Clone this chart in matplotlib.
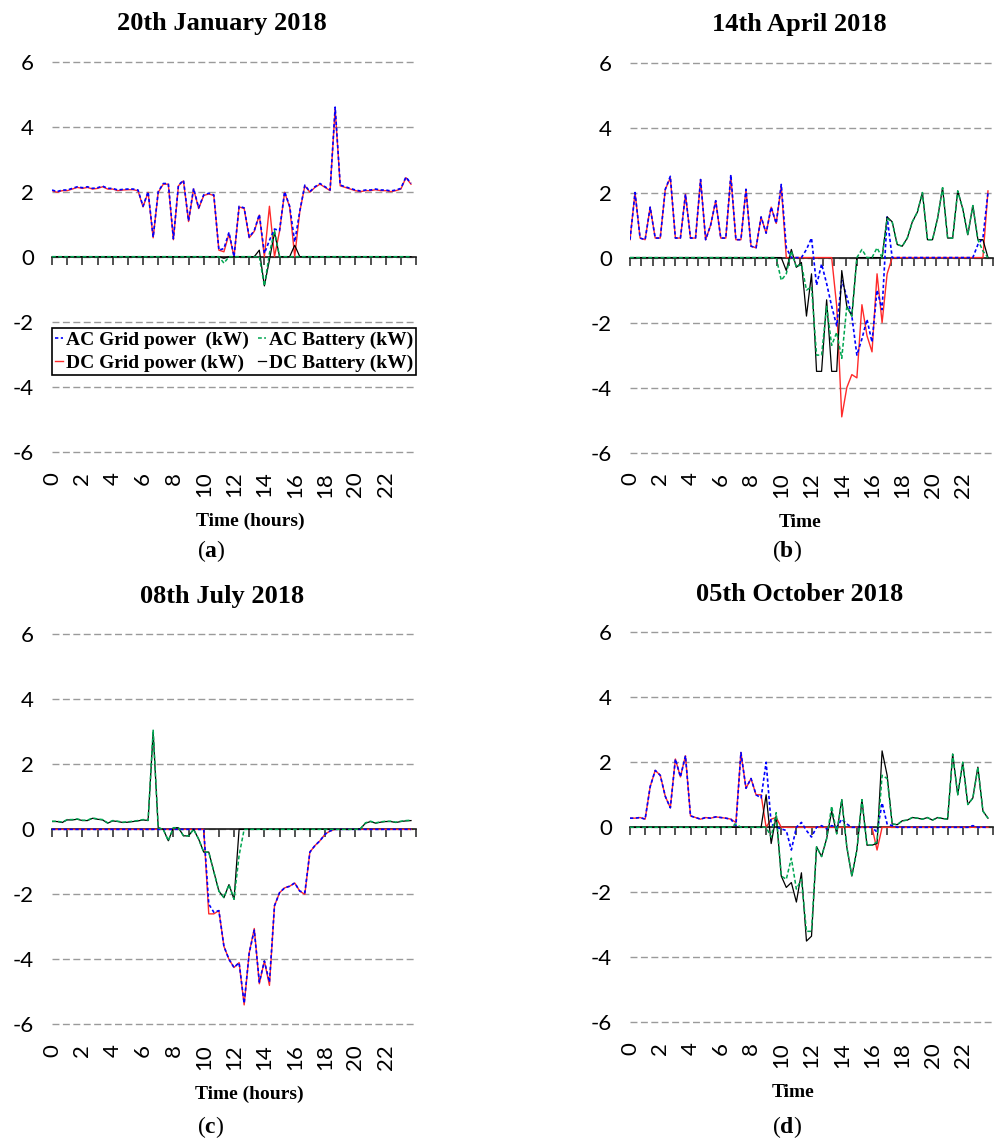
import numpy as np
import matplotlib
matplotlib.use("Agg")
import matplotlib.pyplot as plt

plt.rcParams["font.family"] = ["Lato", "DejaVu Sans"]
plt.rcParams["axes.unicode_minus"] = False
plt.rcParams["mathtext.fontset"] = "custom"
plt.rcParams["mathtext.rm"] = "Liberation Serif"
plt.rcParams["mathtext.bf"] = "Liberation Serif:bold"

# 20-minute samples over one day
HOURS = np.arange(72) / 3

JAN_AC_GRID = [
    2.05, 2.00, 2.05, 2.05, 2.10, 2.15, 2.12, 2.15, 2.10, 2.12, 2.17, 2.10,
    2.10, 2.05, 2.07, 2.08, 2.08, 2.05, 1.55, 2.00, 0.60, 2.00, 2.25, 2.25,
    0.55, 2.20, 2.35, 1.10, 2.10, 1.50, 1.90, 1.95, 1.90, 0.20, 0.25, 0.75,
    0.00, 1.55, 1.50, 0.60, 0.80, 1.30, 0.10, 0.50, 0.85, 0.80, 2.00, 1.55,
    0.45, 1.40, 2.20, 2.00, 2.15, 2.25, 2.15, 2.05, 4.60, 2.20, 2.15, 2.10,
    2.05, 2.02, 2.05, 2.05, 2.08, 2.05, 2.05, 2.02, 2.05, 2.10, 2.45, 2.25,
]
JAN_DC_GRID = [
    2.03, 1.98, 2.03, 2.03, 2.08, 2.13, 2.10, 2.13, 2.08, 2.10, 2.15, 2.08,
    2.08, 2.03, 2.05, 2.06, 2.06, 2.03, 1.53, 1.98, 0.58, 1.98, 2.23, 2.23,
    0.52, 2.18, 2.33, 1.08, 2.08, 1.48, 1.88, 1.93, 1.88, 0.20, 0.15, 0.70,
    0.00, 1.53, 1.48, 0.58, 0.78, 1.28, 0.00, 1.55, 0.00, 0.78, 1.98, 1.53,
    0.00, 1.38, 2.18, 1.98, 2.13, 2.23, 2.13, 2.03, 4.55, 2.18, 2.13, 2.08,
    2.03, 2.00, 2.03, 2.03, 2.06, 2.03, 2.03, 2.00, 2.03, 2.08, 2.43, 2.23,
]
JAN_AC_BAT = [
    0.0, 0.0, 0.0, 0.0, 0.0, 0.0, 0.0, 0.0, 0.0, 0.0, 0.0, 0.0,
    0.0, 0.0, 0.0, 0.0, 0.0, 0.0, 0.0, 0.0, 0.0, 0.0, 0.0, 0.0,
    0.0, 0.0, 0.0, 0.0, 0.0, 0.0, 0.0, 0.0, 0.0, 0.0, -0.20, 0.0,
    0.0, 0.0, 0.0, 0.0, 0.0, 0.0, -0.90, 0.10, 0.80, 0.0, 0.0, 0.0,
    0.0, 0.0, 0.0, 0.0, 0.0, 0.0, 0.0, 0.0, 0.0, 0.0, 0.0, 0.0,
    0.0, 0.0, 0.0, 0.0, 0.0, 0.0, 0.0, 0.0, 0.0, 0.0, 0.0, 0.0,
]
JAN_DC_BAT = [
    0.0, 0.0, 0.0, 0.0, 0.0, 0.0, 0.0, 0.0, 0.0, 0.0, 0.0, 0.0,
    0.0, 0.0, 0.0, 0.0, 0.0, 0.0, 0.0, 0.0, 0.0, 0.0, 0.0, 0.0,
    0.0, 0.0, 0.0, 0.0, 0.0, 0.0, 0.0, 0.0, 0.0, 0.0, -0.05, 0.0,
    0.0, 0.0, 0.0, 0.0, 0.0, 0.20, -0.90, -0.10, 0.75, 0.0, 0.0, 0.0,
    0.35, 0.0, 0.0, 0.0, 0.0, 0.0, 0.0, 0.0, 0.0, 0.0, 0.0, 0.0,
    0.0, 0.0, 0.0, 0.0, 0.0, 0.0, 0.0, 0.0, 0.0, 0.0, 0.0, 0.0,
]

APR_AC_GRID = [
    0.55, 2.00, 0.60, 0.55, 1.55, 0.60, 0.60, 2.10, 2.50, 0.60, 0.60, 1.95,
    0.60, 0.60, 2.40, 0.55, 1.00, 1.75, 0.60, 0.60, 2.55, 0.55, 0.55, 2.10,
    0.35, 0.30, 1.25, 0.75, 1.55, 1.05, 2.25, 0.30, 0.00, 0.00, 0.00, 0.25,
    0.60, -0.85, -0.20, -0.80, -1.50, -2.10, -0.70, -1.20, -1.80, -3.00, -2.50, -1.90,
    -2.60, -1.00, -1.60, 1.25, 0.00, 0.00, 0.00, 0.00, 0.00, 0.00, 0.00, 0.00,
    0.00, 0.00, 0.00, 0.00, 0.00, 0.00, 0.00, 0.00, 0.00, 0.40, 0.60, 2.00,
]
APR_DC_GRID = [
    0.55, 2.00, 0.60, 0.55, 1.55, 0.60, 0.60, 2.10, 2.45, 0.60, 0.60, 1.95,
    0.60, 0.60, 2.40, 0.55, 1.00, 1.75, 0.60, 0.60, 2.50, 0.55, 0.55, 2.10,
    0.35, 0.30, 1.25, 0.75, 1.55, 1.05, 2.20, 0.00, 0.00, 0.00, 0.00, 0.00,
    0.00, 0.00, 0.00, 0.00, 0.00, -1.50, -4.90, -4.00, -3.60, -3.70, -1.45, -2.40,
    -2.90, -0.50, -2.00, -0.50, 0.00, 0.00, 0.00, 0.00, 0.00, 0.00, 0.00, 0.00,
    0.00, 0.00, 0.00, 0.00, 0.00, 0.00, 0.00, 0.00, 0.00, 0.00, 0.00, 2.05,
]
APR_AC_BAT = [
    0.0, 0.0, 0.0, 0.0, 0.0, 0.0, 0.0, 0.0, 0.0, 0.0, 0.0, 0.0,
    0.0, 0.0, 0.0, 0.0, 0.0, 0.0, 0.0, 0.0, 0.0, 0.0, 0.0, 0.0,
    0.0, 0.0, 0.0, 0.0, 0.0, 0.0, -0.70, -0.50, 0.20, -0.30, -0.20, -1.00,
    -0.90, -3.00, -3.00, -1.50, -2.70, -2.30, -3.10, -1.50, -1.80, 0.00, 0.25, 0.00,
    0.00, 0.30, 0.00, 1.20, 1.10, 0.40, 0.35, 0.60, 1.10, 1.40, 2.00, 0.55,
    0.55, 1.20, 2.15, 0.60, 0.60, 2.05, 1.50, 0.70, 1.60, 0.55, 0.20, 0.00,
]
APR_DC_BAT = [
    0.0, 0.0, 0.0, 0.0, 0.0, 0.0, 0.0, 0.0, 0.0, 0.0, 0.0, 0.0,
    0.0, 0.0, 0.0, 0.0, 0.0, 0.0, 0.0, 0.0, 0.0, 0.0, 0.0, 0.0,
    0.0, 0.0, 0.0, 0.0, 0.0, 0.0, 0.00, -0.40, 0.25, -0.30, -0.15, -1.80,
    -0.50, -3.50, -3.50, -1.30, -3.50, -3.50, -0.40, -1.50, -1.80, 0.00, 0.00, 0.00,
    0.00, 0.00, 0.00, 1.25, 1.10, 0.40, 0.35, 0.60, 1.10, 1.40, 2.00, 0.55,
    0.55, 1.20, 2.15, 0.60, 0.60, 2.05, 1.50, 0.70, 1.60, 0.55, 0.55, 0.00,
]

JUL_AC_GRID = [
    0.0, 0.0, 0.0, 0.0, 0.0, 0.0, 0.0, 0.0, 0.0, 0.0, 0.0, 0.0,
    0.0, 0.0, 0.0, 0.0, 0.0, 0.0, 0.0, 0.0, 0.0, 0.0, 0.0, 0.0,
    0.0, 0.0, 0.0, 0.0, 0.0, 0.0, 0.00, -2.30, -2.55, -2.50, -3.60, -4.00,
    -4.25, -4.10, -5.35, -3.80, -3.10, -4.70, -4.05, -4.70, -2.35, -1.95, -1.80, -1.75,
    -1.65, -1.90, -1.95, -0.70, -0.50, -0.35, -0.15, -0.05, 0.00, 0.0, 0.0, 0.0,
    0.0, 0.0, 0.0, 0.0, 0.0, 0.0, 0.0, 0.0, 0.0, 0.0, 0.0, 0.0,
]
JUL_DC_GRID = [
    0.0, 0.0, 0.0, 0.0, 0.0, 0.0, 0.0, 0.0, 0.0, 0.0, 0.0, 0.0,
    0.0, 0.0, 0.0, 0.0, 0.0, 0.0, 0.0, 0.0, 0.0, 0.0, 0.0, 0.0,
    0.0, 0.0, 0.0, 0.0, 0.0, 0.0, 0.00, -2.60, -2.60, -2.50, -3.60, -4.00,
    -4.25, -4.10, -5.40, -3.80, -3.05, -4.75, -4.05, -4.80, -2.35, -1.95, -1.80, -1.75,
    -1.65, -1.90, -2.00, -0.70, -0.50, -0.35, -0.15, -0.05, 0.00, 0.0, 0.0, 0.0,
    0.0, 0.0, 0.0, 0.0, 0.0, 0.0, 0.0, 0.0, 0.0, 0.0, 0.0, 0.0,
]
JUL_AC_BAT = [
    0.25, 0.25, 0.22, 0.30, 0.30, 0.32, 0.28, 0.28, 0.35, 0.32, 0.30, 0.20,
    0.27, 0.25, 0.22, 0.23, 0.25, 0.27, 0.30, 0.28, 3.05, 0.05, 0.00, -0.35,
    0.05, 0.05, -0.20, -0.20, 0.00, -0.30, -0.70, -0.70, -1.30, -1.90, -2.10, -1.70,
    -2.15, -0.80, 0.00, 0.0, 0.0, 0.0, 0.0, 0.0, 0.0, 0.0, 0.0, 0.0,
    0.0, 0.0, 0.0, 0.0, 0.0, 0.0, 0.0, 0.0, 0.0, 0.0, 0.0, 0.0,
    0.00, 0.02, 0.20, 0.25, 0.20, 0.23, 0.25, 0.25, 0.22, 0.25, 0.27, 0.28,
]
JUL_DC_BAT = [
    0.24, 0.24, 0.21, 0.29, 0.29, 0.31, 0.27, 0.27, 0.34, 0.31, 0.29, 0.19,
    0.26, 0.24, 0.21, 0.22, 0.24, 0.26, 0.29, 0.27, 3.00, 0.05, 0.00, -0.35,
    0.05, 0.05, -0.20, -0.20, 0.00, -0.30, -0.70, -0.70, -1.30, -1.90, -2.10, -1.70,
    -2.15, 0.00, 0.00, 0.0, 0.0, 0.0, 0.0, 0.0, 0.0, 0.0, 0.0, 0.0,
    0.0, 0.0, 0.0, 0.0, 0.0, 0.0, 0.0, 0.0, 0.0, 0.0, 0.0, 0.0,
    0.00, 0.02, 0.19, 0.24, 0.19, 0.22, 0.24, 0.24, 0.21, 0.24, 0.26, 0.27,
]

OCT_AC_GRID = [
    0.28, 0.28, 0.30, 0.25, 1.25, 1.75, 1.60, 0.95, 0.60, 2.10, 1.55, 2.20,
    0.35, 0.30, 0.25, 0.30, 0.28, 0.32, 0.30, 0.28, 0.25, 0.05, 2.30, 1.20,
    1.50, 1.00, 0.90, 2.00, 0.10, 0.00, -0.05, -0.10, -0.70, 0.00, 0.15, -0.10,
    -0.30, 0.00, 0.05, -0.05, 0.05, 0.00, 0.25, 0.10, 0.00, 0.0, 0.0, 0.0,
    0.00, -0.15, 0.75, 0.10, 0.05, 0.00, 0.0, 0.0, 0.0, 0.0, 0.0, 0.0,
    0.0, 0.0, 0.0, 0.0, 0.0, 0.0, 0.00, 0.00, 0.05, 0.0, 0.0, 0.0,
]
OCT_DC_GRID = [
    0.28, 0.28, 0.30, 0.25, 1.25, 1.75, 1.60, 0.95, 0.60, 2.10, 1.55, 2.20,
    0.35, 0.30, 0.25, 0.30, 0.28, 0.32, 0.30, 0.28, 0.25, 0.15, 2.30, 1.20,
    1.50, 1.00, 1.00, 0.00, 0.25, 0.30, 0.0, 0.0, 0.0, 0.0, 0.0, 0.0,
    0.0, 0.0, 0.0, 0.0, 0.0, 0.0, 0.0, 0.0, 0.0, 0.0, 0.0, 0.0,
    0.00, -0.70, 0.00, 0.0, 0.0, 0.0, 0.0, 0.0, 0.0, 0.0, 0.0, 0.0,
    0.0, 0.0, 0.0, 0.0, 0.0, 0.0, 0.0, 0.0, 0.0, 0.0, 0.0, 0.0,
]
OCT_AC_BAT = [
    0.0, 0.0, 0.0, 0.0, 0.0, 0.0, 0.0, 0.0, 0.0, 0.0, 0.0, 0.0,
    0.0, 0.0, 0.0, 0.0, 0.0, 0.0, 0.0, 0.0, 0.0, 0.10, 0.00, 0.00,
    0.0, 0.0, 0.0, 0.00, -0.30, 0.45, -1.50, -1.60, -0.95, -1.90, -1.60, -3.20,
    -3.20, -0.60, -0.90, -0.35, 0.65, -0.20, 0.85, -0.60, -1.50, -0.70, 0.85, -0.55,
    -0.55, -0.45, 1.60, 1.50, 0.10, 0.08, 0.20, 0.22, 0.30, 0.28, 0.25, 0.30,
    0.22, 0.30, 0.27, 0.25, 2.25, 1.00, 2.00, 0.70, 0.90, 1.85, 0.50, 0.28,
]
OCT_DC_BAT = [
    0.0, 0.0, 0.0, 0.0, 0.0, 0.0, 0.0, 0.0, 0.0, 0.0, 0.0, 0.0,
    0.0, 0.0, 0.0, 0.0, 0.0, 0.0, 0.0, 0.0, 0.0, 0.0, 0.0, 0.0,
    0.0, 0.0, 0.0, 1.00, -0.50, 0.35, -1.50, -1.85, -1.70, -2.30, -1.40, -3.50,
    -3.35, -0.60, -0.90, -0.35, 0.50, -0.20, 0.85, -0.60, -1.50, -0.70, 0.85, -0.55,
    -0.55, -0.50, 2.35, 1.60, 0.10, 0.08, 0.20, 0.22, 0.30, 0.28, 0.25, 0.30,
    0.22, 0.30, 0.27, 0.25, 2.25, 1.00, 2.00, 0.70, 0.90, 1.85, 0.50, 0.28,
]

TITLES = ["20th January 2018", "14th April 2018", "08th July 2018", "05th October 2018"]
XLABELS = ["Time (hours)", "Time", "Time (hours)", "Time"]
TAGS = ["a", "b", "c", "d"]
LEGEND_LABELS = ["AC Grid power  (kW)", "DC Grid power (kW)",
                 "AC Battery (kW)", "DC Battery (kW)"]
TICK_STEP = [1.0, 0.75, 1.0, 1.0]
Y_TICKS = [-6, -4, -2, 0, 2, 4, 6]
X_LABEL_TICKS = list(range(0, 24, 2))

SERIES = [
    (JAN_AC_GRID, JAN_DC_GRID, JAN_AC_BAT, JAN_DC_BAT),
    (APR_AC_GRID, APR_DC_GRID, APR_AC_BAT, APR_DC_BAT),
    (JUL_AC_GRID, JUL_DC_GRID, JUL_AC_BAT, JUL_DC_BAT),
    (OCT_AC_GRID, OCT_DC_GRID, OCT_AC_BAT, OCT_DC_BAT),
]

# layout (figure fractions)
AX_RECTS = [
    [0.0522, 0.6023, 0.3651, 0.3467],
    [0.6319, 0.6015, 0.3641, 0.3467],
    [0.0522, 0.1017, 0.3651, 0.3467],
    [0.6319, 0.1035, 0.3641, 0.3467],
]
XLABEL_X = [0.544, 0.468, 0.541, 0.449]
TAG_POS = [(0.2116, 0.5180), (0.7894, 0.5180), (0.2116, 0.0150), (0.7894, 0.0150)]

SERIF = "Liberation Serif"

fig = plt.figure(figsize=(9.97, 11.44), dpi=100)

for i in range(4):
    ac_grid, dc_grid, ac_bat, dc_bat = SERIES[i]
    ax = fig.add_axes(AX_RECTS[i])

    l_dc, = ax.plot(HOURS, dc_grid, color="#ff2a2a", lw=1.0, zorder=3)
    l_ac, = ax.plot(HOURS, ac_grid, color="#0000ff", lw=1.2, ls=(0, (2, 1.5)), zorder=3)
    l_dcb, = ax.plot(HOURS, dc_bat, color="black", lw=0.9, zorder=3)
    l_acb, = ax.plot(HOURS, ac_bat, color="#00a651", lw=1.1, ls=(0, (2.5, 1.5)), zorder=3)

    ax.set_xlim(0, 24)
    ax.set_ylim(-6.1, 6.1)
    ax.set_yticks(Y_TICKS)
    ax.yaxis.grid(True, color="#9a9a9a", lw=1.0, ls=(0, (5, 2.5)))
    for side in ("top", "right", "left"):
        ax.spines[side].set_visible(False)
    ax.spines["bottom"].set_position(("data", 0))
    ax.spines["bottom"].set_linewidth(1.2)
    ax.spines["bottom"].set_color("#1a1a1a")

    ax.set_xticks(np.arange(0, 24.01, TICK_STEP[i]))
    ax.tick_params(axis="x", direction="out", length=6, width=1.2,
                   color="#333333", labelbottom=False)
    ax.tick_params(axis="y", length=0, pad=13, labelsize=16)

    sec = ax.secondary_xaxis("bottom")
    sec.set_xticks(X_LABEL_TICKS)
    sec.tick_params(length=0, pad=12, labelsize=16, labelrotation=90)
    sec.spines["bottom"].set_visible(False)

    ax.set_title(TITLES[i], x=0.466, y=1.087, va="center", pad=0,
                 fontfamily=SERIF, fontweight="bold", fontsize=19)
    ax.set_xlabel(XLABELS[i], fontfamily=SERIF, fontweight="bold",
                  fontsize=14, va="center")
    ax.xaxis.set_label_coords(XLABEL_X[i], -0.168)

    if i == 0:
        leg = ax.legend([l_ac, l_dc, l_acb, l_dcb], LEGEND_LABELS, ncol=2,
                        mode="expand", loc="upper left",
                        bbox_to_anchor=(0, 0.18, 1, 0.14), borderaxespad=0,
                        handlelength=0.4, handletextpad=0.15, borderpad=0.15,
                        labelspacing=0.3, columnspacing=0.5, fancybox=False,
                        edgecolor="black", framealpha=1,
                        prop={"family": SERIF, "weight": "bold", "size": 14})
        leg.get_frame().set_linewidth(1.2)

    fig.text(TAG_POS[i][0], TAG_POS[i][1], r"$(\mathbf{%s})$" % TAGS[i],
             ha="center", va="center", fontsize=17)

fig.savefig("out.png", dpi=100)
